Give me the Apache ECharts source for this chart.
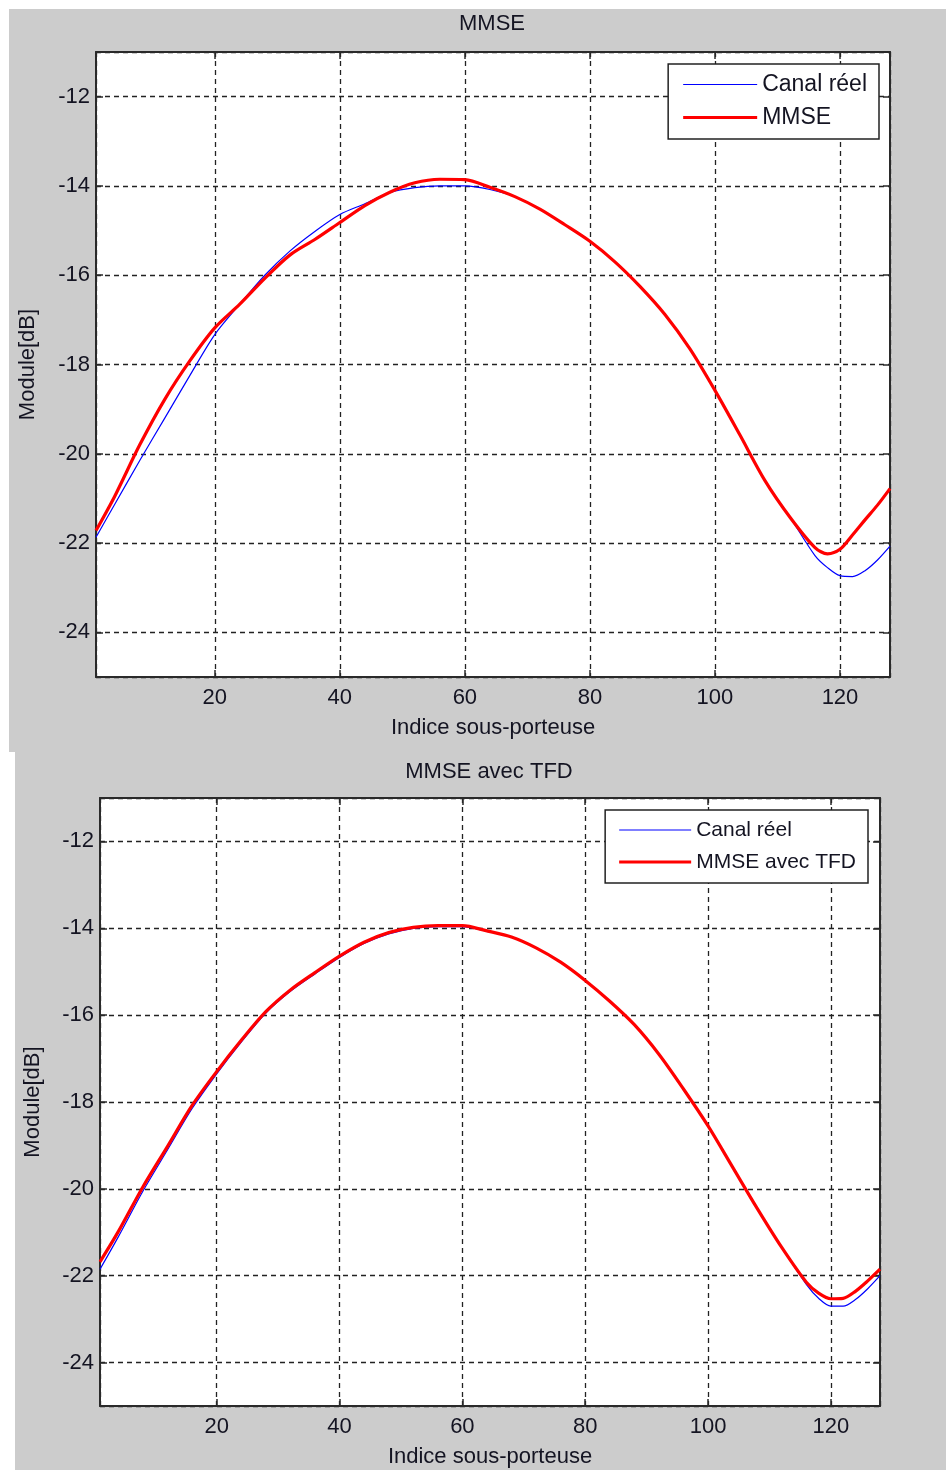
<!DOCTYPE html>
<html>
<head>
<meta charset="utf-8">
<script src="https://cdn.jsdelivr.net/npm/echarts@6/dist/echarts.min.js"></script>
<style>
  html, body { margin: 0; padding: 0; background: #ffffff; }
  #bg1 { position: absolute; left: 9px; top: 9px; width: 937px; height: 743px; background: #cccccc; }
  #bg2 { position: absolute; left: 15px; top: 752px; width: 931px; height: 718px; background: #cccccc; }
  #chart { position: absolute; left: 0; top: 0; width: 946px; height: 1470px; }
</style>
</head>
<body>
<div id="bg1"></div>
<div id="bg2"></div>
<div id="chart"></div>
<script>
// Subcarrier indices at which the curves were read
const xIdx = [1, 4, 8, 12, 16, 20, 24, 28, 32, 36, 40, 44, 48, 52, 56, 60, 64, 68, 72, 76, 80, 84, 88, 92, 96, 100, 104, 108, 112, 116, 118, 120, 122, 124, 126, 128];

// Top panel: "MMSE"
const canalTop = [-21.87, -21.13, -20.15, -19.2, -18.25, -17.33, -16.65, -16.0, -15.46, -15.02, -14.64, -14.4, -14.15, -14.04, -14.0, -14.0, -14.08, -14.24, -14.52, -14.87, -15.24, -15.7, -16.25, -16.88, -17.65, -18.58, -19.58, -20.6, -21.42, -22.28, -22.55, -22.73, -22.75, -22.62, -22.38, -22.07];
const mmseTop = [-21.72, -20.95, -19.8, -18.78, -17.92, -17.18, -16.65, -16.07, -15.55, -15.2, -14.82, -14.44, -14.14, -13.93, -13.85, -13.86, -14.03, -14.24, -14.52, -14.87, -15.24, -15.7, -16.25, -16.88, -17.65, -18.58, -19.58, -20.6, -21.42, -22.1, -22.24, -22.14, -21.82, -21.48, -21.15, -20.78];

// Bottom panel: "MMSE avec TFD"
const canalBottom = [-21.85, -21.1, -20.05, -19.1, -18.15, -17.35, -16.62, -15.95, -15.45, -15.05, -14.67, -14.35, -14.13, -14.0, -13.96, -13.96, -14.07, -14.2, -14.45, -14.78, -15.2, -15.68, -16.22, -16.9, -17.7, -18.55, -19.5, -20.45, -21.35, -22.2, -22.52, -22.7, -22.7, -22.55, -22.3, -22.0];
const mmseTfd = [-21.68, -20.98, -19.95, -19.02, -18.08, -17.3, -16.58, -15.92, -15.42, -15.02, -14.64, -14.32, -14.1, -13.98, -13.94, -13.94, -14.06, -14.2, -14.45, -14.78, -15.2, -15.68, -16.22, -16.9, -17.7, -18.55, -19.5, -20.45, -21.35, -22.15, -22.4, -22.53, -22.52, -22.36, -22.12, -21.85];

const panelTitles = ['MMSE', 'MMSE avec TFD'];
const legendNames = [['Canal réel', 'MMSE'], ['Canal réel', 'MMSE avec TFD']];
const xName = 'Indice sous-porteuse';
const yName = 'Module[dB]';
const xRange = [1, 128];
const yRange = [-25, -11];

const pairs = (ys) => xIdx.map((x, i) => [x, ys[i]]);

const FONT = 'Liberation Sans, Arial, sans-serif';
const TXT = '#141422';
const BLUE_W = 1.2, RED_W = 3.2;
const grids = [
  { left: 96, top: 52, width: 794, height: 625 },
  { left: 100, top: 798, width: 780, height: 608 }
];

const chart = echarts.init(document.getElementById('chart'), null, { renderer: 'canvas' });

const xAxes = [], yAxes = [];
grids.forEach((g, gi) => {
  const base = {
    gridIndex: gi, type: 'value', min: xRange[0], max: xRange[1], splitNumber: 6
  };
  xAxes.push(Object.assign({}, base, {
    position: 'bottom',
    name: xName, nameLocation: 'middle', nameGap: 40,
    nameTextStyle: { fontFamily: FONT, fontSize: 22, color: TXT },
    axisLine: { show: true, lineStyle: { color: '#2a2a2a', width: 2 } },
    axisTick: { show: true, inside: true, length: 7, lineStyle: { color: '#2a2a2a', width: 1.5 } },
    axisLabel: { show: true, margin: 10, showMinLabel: false, showMaxLabel: false, fontFamily: FONT, fontSize: 22, color: TXT },
    splitLine: { show: true, lineStyle: { color: '#222', width: 1.3, type: [5, 4] } }
  }));
  xAxes.push(Object.assign({}, base, {
    position: 'top',
    axisLine: { show: true, lineStyle: { color: '#2a2a2a', width: 2 } },
    axisTick: { show: true, inside: true, length: 7, lineStyle: { color: '#2a2a2a', width: 1.5 } },
    axisLabel: { show: false },
    splitLine: { show: false }
  }));
  const ybase = { gridIndex: gi, type: 'value', min: yRange[0], max: yRange[1], splitNumber: 7 };
  yAxes.push(Object.assign({}, ybase, {
    position: 'left',
    name: yName, nameLocation: 'middle', nameGap: gi === 0 ? 57 : 56, nameRotate: 90,
    nameTextStyle: { fontFamily: FONT, fontSize: 22, color: TXT },
    axisLine: { show: true, lineStyle: { color: '#2a2a2a', width: 2 } },
    axisTick: { show: true, inside: true, length: 7, lineStyle: { color: '#2a2a2a', width: 1.5 } },
    axisLabel: { show: true, margin: 6, showMinLabel: false, showMaxLabel: false, fontFamily: FONT, fontSize: 22, color: TXT },
    splitLine: { show: true, lineStyle: { color: '#222', width: 1.3, type: [5, 4] } }
  }));
  yAxes.push(Object.assign({}, ybase, {
    position: 'right',
    axisLine: { show: true, lineStyle: { color: '#2a2a2a', width: 2 } },
    axisTick: { show: true, inside: true, length: 7, lineStyle: { color: '#2a2a2a', width: 1.5 } },
    axisLabel: { show: false },
    splitLine: { show: false }
  }));
});

const panelData = [[canalTop, mmseTop], [canalBottom, mmseTfd]];
const series = [];
panelData.forEach((pd, gi) => {
  series.push({
    name: legendNames[gi][0], type: 'line', xAxisIndex: gi * 2, yAxisIndex: gi * 2,
    data: pairs(pd[0]), symbol: 'none', smooth: 0.3,
    lineStyle: { color: '#0000ff', width: BLUE_W }, itemStyle: { color: '#0000ff' }, z: 3
  });
  series.push({
    name: legendNames[gi][1], type: 'line', xAxisIndex: gi * 2, yAxisIndex: gi * 2,
    data: pairs(pd[1]), symbol: 'none', smooth: 0.3,
    lineStyle: { color: '#ff0000', width: RED_W }, itemStyle: { color: '#ff0000' }, z: 4
  });
});

const legendBase = {
  orient: 'vertical', backgroundColor: '#ffffff', borderColor: '#222', borderWidth: 1.5,
  itemHeight: 14, itemGap: 10, symbolKeepAspect: true,
  itemStyle: { borderWidth: 0 },
  lineStyle: { width: 0 },
  selectedMode: false
};
const lineIcon = (w) => 'path://M0,0H80V' + w + 'H0Z';

chart.setOption({
  backgroundColor: 'transparent',
  animation: false,
  title: [
    { text: panelTitles[0], left: 492, top: 13, textAlign: 'center', padding: 0,
      textStyle: { fontFamily: FONT, fontSize: 22, fontWeight: 'normal', color: TXT } },
    { text: panelTitles[1], left: 489, top: 761, textAlign: 'center', padding: 0,
      textStyle: { fontFamily: FONT, fontSize: 22, fontWeight: 'normal', color: TXT } }
  ],
  legend: [
    Object.assign({}, legendBase, {
      data: [{ name: legendNames[0][0], icon: lineIcon(BLUE_W * 80 / 74) }, { name: legendNames[0][1], icon: lineIcon(RED_W * 80 / 74) }],
      textStyle: { fontFamily: FONT, fontSize: 23, color: TXT, lineHeight: 22 },
      right: 67, top: 64, itemWidth: 74, padding: [9, 12, 10, 15] }),
    Object.assign({}, legendBase, {
      data: [{ name: legendNames[1][0], icon: lineIcon(BLUE_W * 80 / 72) }, { name: legendNames[1][1], icon: lineIcon(RED_W * 80 / 72) }],
      textStyle: { fontFamily: FONT, fontSize: 21, color: TXT, lineHeight: 22 },
      right: 78, top: 810, itemWidth: 72, padding: [9, 12, 10, 14] })
  ],
  grid: grids.map(g => Object.assign({ show: true, backgroundColor: '#ffffff', borderWidth: 0, containLabel: false }, g)),
  xAxis: xAxes,
  yAxis: yAxes,
  series: series
});
</script>
</body>
</html>
